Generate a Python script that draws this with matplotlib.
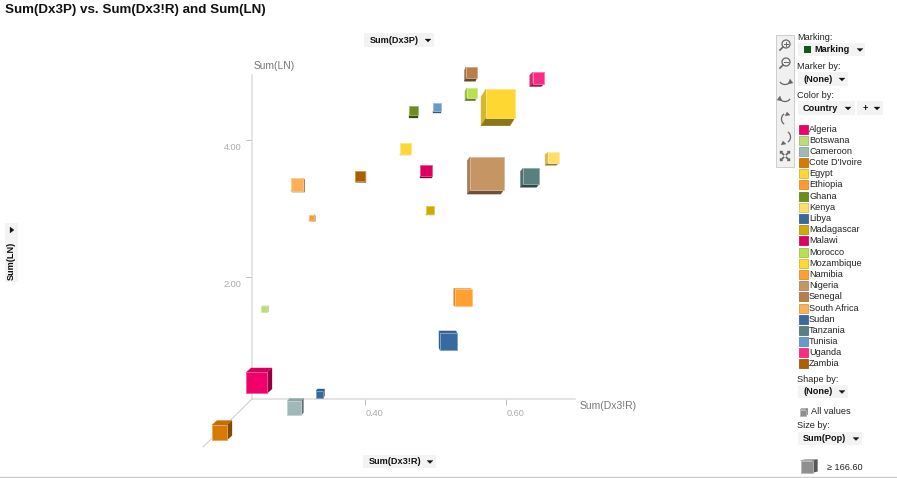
import numpy as np
import matplotlib
matplotlib.use("Agg")
import matplotlib.pyplot as plt
from matplotlib.patches import Polygon, Rectangle, Circle, Arc
from matplotlib.transforms import Affine2D

plt.rcParams['font.family'] = ['Liberation Sans', 'DejaVu Sans']

countries = ["Algeria", "Botswana", "Cameroon", "Cote D'Ivoire", "Egypt", "Ethiopia", "Ghana", "Kenya",
             "Libya", "Madagascar", "Malawi", "Morocco", "Mozambique", "Namibia", "Nigeria", "Senegal",
             "South Africa", "Sudan", "Tanzania", "Tunisia", "Uganda", "Zambia"]
dx3r = [.2457, .2563, .2989, .1932, .4570, .3237, .4684, .6670, .3350, .4918, .4861,
        .5513, .5918, .5393, .5726, .5506, .3031, .5180, .6350, .5017, .6457, .3925]
ln = [.457, 1.530, .085, -.266, 3.880, 2.873, 4.435, 3.742, .289, 2.982, 3.559,
      4.691, 4.537, 1.698, 3.515, 4.990, 3.355, 1.063, 3.472, 4.486, 4.909, 3.472]
pop_side = [21, 6, 14, 15, 11, 5.5, 9, 11, 7, 8, 11.5, 10, 29, 17, 33.5, 11, 12.5, 17, 16, 8, 11.5, 10]
depth_dx = [5, 1.2, 2.5, 5, 0, 1, 0, -3, 1.5, 0, 0, -2, -5, -1.3, -3, -1.5, 1.5, -1, -2.5, 0, -3, 1]
depth_dy = [-4.5, -.5, -3, -4.5, 1.5, 1, 3, 2, -2, 1, 1.5, 3, 8, -1, 4, 3.5, 1.5, -2, 3, 2, 3, 1]
colors = ["#F0006A", "#BCDC7A", "#9FB8B8", "#D97A00", "#FFD733", "#FF9A2A", "#6B8E1E", "#FFDF66",
          "#356A9E", "#CFAB00", "#DD0060", "#B8E050", "#FFD733", "#FFA030", "#C69564", "#B87F4A",
          "#FFB055", "#376B9F", "#5A7F7F", "#6699CC", "#FF2A85", "#AD5F00"]
x_ticks = [0.40, 0.60]
y_ticks = [2.00, 4.00]

W, H = 897, 478
fig = plt.figure(figsize=(W / 100, H / 100), dpi=100, facecolor='white')

# plot axes, placed by pixel position of the spines
L, R, T, B = 252, 575, 75, 399
ax = fig.add_axes([L / W, 1 - B / H, (R - L) / W, (B - T) / H])
ax.set_xlim(0.2393, 0.6975)
ax.set_ylim(0.223, 4.95)
ax.patch.set_alpha(0)
for s in ('top', 'right'):
    ax.spines[s].set_visible(False)
for s in ('left', 'bottom'):
    ax.spines[s].set_color('#DDDDDD')
    ax.spines[s].set_linewidth(1.1)
ax.set_xticks(x_ticks, [f"{v:.2f}" for v in x_ticks])
ax.set_yticks(y_ticks, [f"{v:.2f}" for v in y_ticks])
ax.tick_params(axis='x', length=4.3, width=.7, color='#BBBBBB', labelcolor='#AAAAAA', labelsize=6.6, pad=3)
ax.tick_params(axis='y', length=4.3, width=.7, color='#BBBBBB', labelcolor='#AAAAAA', labelsize=6.6, pad=3.5)
for t in ax.get_xticklabels():
    t.set_ha('left')
for t in ax.get_yticklabels():
    t.set_va('top')
    t.set_transform(t.get_transform() + Affine2D().translate(0, -3))

# overlay in pixel coordinates for projected cubes and panel controls
ov = fig.add_axes([0, 0, 1, 1], zorder=5)
ov.set_xlim(0, W)
ov.set_ylim(H, 0)
ov.axis('off')
ov.patch.set_alpha(0)


def shade(c, f):
    rgb = np.array(matplotlib.colors.to_rgb(c))
    return tuple(rgb * f) if f <= 1 else tuple(rgb + (1 - rgb) * (f - 1))


def poly(pts, fc, z=3):
    ov.add_patch(Polygon(pts, closed=True, fc=fc, ec=fc, lw=.2, zorder=z))


def cube(cx, cy, s, dx, dy, col, z=3):
    x0, x1, y0, y1 = cx - s / 2, cx + s / 2, cy - s / 2, cy + s / 2
    if dx < 0:
        poly([(x0, y0), (x0, y1), (x0 + dx, y1 + dy), (x0 + dx, y0 + dy)], shade(col, .85), z)
    if dx > 0:
        poly([(x1, y0), (x1, y1), (x1 + dx, y1 + dy), (x1 + dx, y0 + dy)], shade(col, .6), z)
    if dy > 0:
        poly([(x0, y1), (x1, y1), (x1 + dx, y1 + dy), (x0 + dx, y1 + dy)], shade(col, .55), z)
    if dy < 0:
        poly([(x0, y0), (x1, y0), (x1 + dx, y0 + dy), (x0 + dx, y0 + dy)], shade(col, .9), z)
    ov.add_patch(Rectangle((x0, y0), s, s, fc=col, ec=shade(col, 1.35), lw=.6, zorder=z + .1))


fig.canvas.draw()
for xv, yv, s, dx, dy, c in zip(dx3r, ln, pop_side, depth_dx, depth_dy, colors):
    px, py = ax.transData.transform((xv, yv))
    cube(px, H - py, s, dx, dy, c)

# depth axis
ov.plot([L, 203], [B, 447], color='#CCCCCC', lw=.7, zorder=1)


def txt(x, y, s, size=6.6, color='#222222', weight='normal', **kw):
    kw.setdefault('va', 'center')
    ov.text(x, y, s, fontsize=size, color=color, fontweight=weight, zorder=8, **kw)


def button(x0, x1, y0, y1, label=None, lx=None, arrow=None):
    ov.add_patch(Rectangle((x0, y0), x1 - x0, y1 - y0, fc='#F3F3F3', ec='none', zorder=6))
    if label:
        txt(lx if lx else x0 + 4, (y0 + y1) / 2 + .3, label, weight='bold', size=6.6, color='#111111')
    if arrow:
        ym = (y0 + y1) / 2
        poly([(arrow - 3, ym - 1), (arrow + 3, ym - 1), (arrow, ym + 2)], '#111111', 8)


txt(5, 10, "Sum(Dx3P) vs. Sum(Dx3!R) and Sum(LN)", size=9.65, weight='bold', color='#111111')
txt(254, 66, "Sum(LN)", size=7.4, color='#777777')
txt(580, 406, "Sum(Dx3!R)", size=7.5, color='#777777')

button(364, 434, 33, 47, "Sum(Dx3P)", 370, 428)
button(363, 436, 455, 468, "Sum(Dx3!R)", 369, 430)
ov.add_patch(Rectangle((5, 223), 13, 59, fc='#F3F3F3', ec='none', zorder=6))
ov.text(11, 280, "Sum(LN)", rotation=90, fontsize=6.6, fontweight='bold', color='#111111',
        ha='center', va='bottom', zorder=8)
poly([(10, 227), (10, 233), (14, 230)], '#111111', 8)

# toolbar
ov.add_patch(Rectangle((776, 35), 18, 132, fc='#F0F0F0', ec='#CCCCCC', lw=.7, zorder=6))
ic = '#666666'
for yy, plus in ((45, True), (63, False)):
    ov.add_patch(Circle((786, yy - 1), 4, fc='none', ec=ic, lw=.9, zorder=7))
    ov.plot([783, 780], [yy + 2, yy + 5], color=ic, lw=1.2, zorder=7)
    ov.plot([784, 788], [yy - 1, yy - 1], color=ic, lw=.7, zorder=7)
    if plus:
        ov.plot([786, 786], [yy - 3, yy + 1], color=ic, lw=.7, zorder=7)
for yy, th1, th2 in ((80, 20, 160), (97, 20, 160)):
    ov.add_patch(Arc((785, yy), 11, 9, theta1=th1, theta2=th2, ec=ic, lw=.9, zorder=7))
poly([(790, 79), (793, 83), (788, 84)], ic, 7)
poly([(780, 96), (777, 100), (782, 101)], ic, 7)
for yy, th1, th2 in ((119, 110, 250), (137, 290, 70)):
    ov.add_patch(Arc((786, yy), 9, 11, theta1=th1, theta2=th2, ec=ic, lw=.9, zorder=7))
poly([(787, 112), (790, 115), (785, 116)], ic, 7)
poly([(783, 141), (786, 144), (781, 145)], ic, 7)
for sx, sy in ((-1, -1), (1, -1), (-1, 1), (1, 1)):
    ov.plot([785 + sx * 1.5, 785 + sx * 4], [156 + sy * 1.5, 156 + sy * 4], color=ic, lw=1.3, zorder=7)
    poly([(785 + sx * 5, 156 + sy * 5), (785 + sx * 2, 156 + sy * 5), (785 + sx * 5, 156 + sy * 2)], ic, 7)

# right-hand panel
txt(797, 37, "Marking:")
button(798, 865, 43, 56, "Marking", 814, 860)
ov.add_patch(Rectangle((804, 46), 7, 7, fc='#0E5A1A', ec='none', zorder=7))
txt(797, 66, "Marker by:")
button(798, 848, 72, 86, "(None)", 803, 842)
txt(797, 95, "Color by:")
button(798, 855, 101, 115, "Country", 803, 848)
button(857, 883, 101, 115, "+", 863, 877)
for i, (name, c) in enumerate(zip(countries, colors)):
    y = 129 + i * 11.19
    ov.add_patch(Rectangle((798.5, y - 4.5), 9, 9, fc=c, ec=shade(c, .8), lw=.5, zorder=7))
    txt(809, y, name)
txt(797, 379, "Shape by:")
button(798, 848, 385, 398, "(None)", 803, 842)
cube(803, 412.5, 6, 1.5, -1, '#8F8F8F', 7)
txt(811, 412, "All values")
txt(797, 426, "Size by:")
button(798, 862, 432, 445, "Sum(Pop)", 803, 856)
cube(806.5, 466.5, 12, 5, -1, '#8F8F8F', 7)
txt(827, 468, "≥ 166.60")
ov.plot([0, W], [477, 477], color='#CCCCCC', lw=1, zorder=7)

fig.savefig('out.png', dpi=100, facecolor='white')
